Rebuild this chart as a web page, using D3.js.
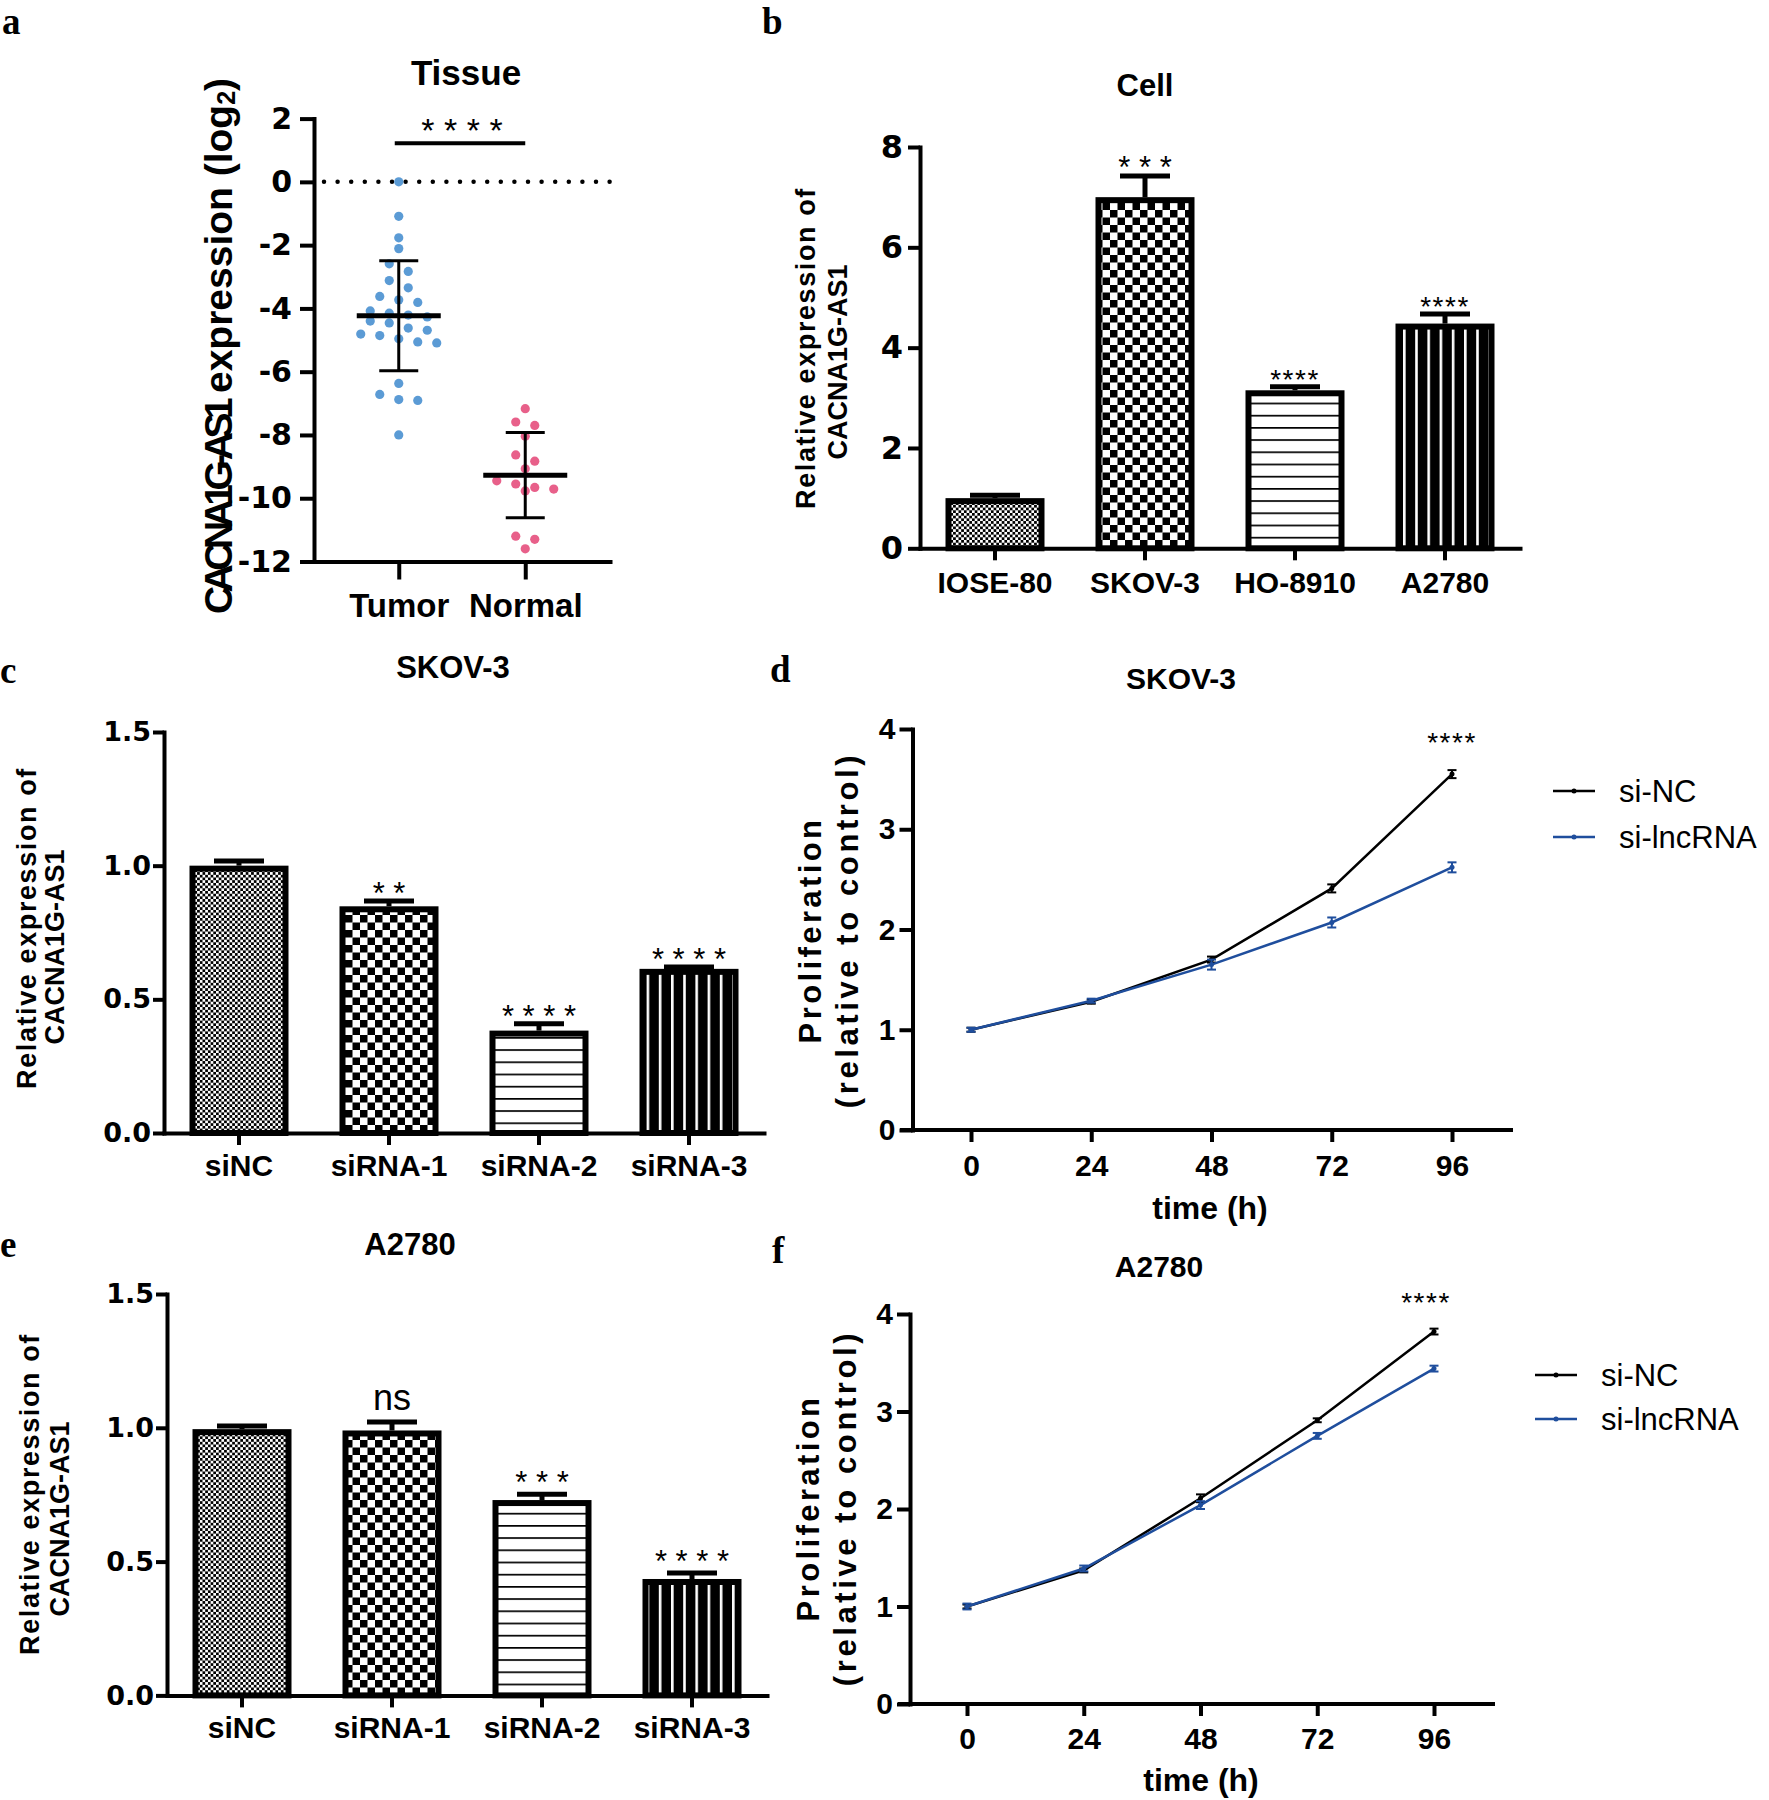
<!DOCTYPE html>
<html><head><meta charset="utf-8">
<script src="https://cdn.jsdelivr.net/npm/d3@7"></script>
<style>body{margin:0;background:#fff;} svg{display:block;background:#fff}</style>
</head><body>
<svg id="fig" width="1769" height="1800"></svg>
<script>
// ---------------- DATA ----------------
const tissueGroups = ["Tumor", "Normal"];
const tumorValues = [0, -1.09, -1.77, -2.11, -2.59, -2.83, -3.12, -3.35, -3.62, -3.73, -3.81, -4.08, -4.15, -4.21, -4.27,
  -4.40, -4.46, -4.62, -4.69, -4.81, -4.86, -4.96, -5.06, -5.09, -6.37, -6.72, -6.88, -6.91, -8.0];
const normalValues = [-7.17, -7.59, -7.7, -8.04, -8.63, -8.83, -9.07, -9.45, -9.55, -9.66, -9.71, -9.77, -11.2, -11.3, -11.6];
const tissueMeans = [-4.23, -9.27];
const tissueSDs = [1.74, 1.35];
const tissueTicks = [2, 0, -2, -4, -6, -8, -10, -12];
const tissueSig = "* * * *";

const cellLines = ["IOSE-80", "SKOV-3", "HO-8910", "A2780"];
const cellMeans = [1.0, 7.0, 3.15, 4.48];
const cellSDs = [0.06, 0.42, 0.07, 0.19];
const cellSig = ["", "* * *", "****", "****"];
const cellTicks = [0, 2, 4, 6, 8];

const siGroups = ["siNC", "siRNA-1", "siRNA-2", "siRNA-3"];
const skovMeans = [1.0, 0.848, 0.383, 0.614];
const skovSDs = [0.017, 0.02, 0.026, 0.007];
const skovSig = ["", "* *", "* * * *", "* * * *"];
const a2780Means = [0.995, 0.99, 0.73, 0.435];
const a2780SDs = [0.012, 0.032, 0.022, 0.022];
const a2780Sig = ["", "ns", "* * *", "* * * *"];
const relTicks = [0, 0.5, 1.0, 1.5];

const timePoints = [0, 24, 48, 72, 96];
const seriesNames = ["si-NC", "si-lncRNA"];
const skovNC = [1.0, 1.28, 1.70, 2.41, 3.55];
const skovNCsd = [0.02, 0.02, 0.03, 0.04, 0.04];
const skovLnc = [1.0, 1.29, 1.65, 2.07, 2.62];
const skovLncSd = [0.02, 0.02, 0.05, 0.05, 0.05];
const a2780NC = [1.0, 1.37, 2.11, 2.91, 3.82];
const a2780NCsd = [0.02, 0.02, 0.04, 0.02, 0.03];
const a2780Lnc = [1.0, 1.39, 2.04, 2.75, 3.44];
const a2780LncSd = [0.03, 0.03, 0.04, 0.03, 0.03];
const prolifTicks = [0, 1, 2, 3, 4];
const prolifSig = "****";

// ---------------- SETUP ----------------
const FONT = "'Liberation Sans', Arial, Helvetica, sans-serif";
const DJ = "'DejaVu Sans', 'Liberation Sans', sans-serif";
const SERIF = "'Liberation Serif', 'Times New Roman', serif";
const BLUE = "#1F4E9D";

const svg = d3.select('#fig');
const defs = svg.append('defs');
function pattern(id, w, h, bg, rects) {
  const p = defs.append('pattern').attr('id', id).attr('patternUnits', 'userSpaceOnUse')
    .attr('width', w).attr('height', h);
  p.append('rect').attr('width', w).attr('height', h).attr('fill', bg);
  rects.forEach(r => p.append('rect').attr('x', r[0]).attr('y', r[1]).attr('width', r[2]).attr('height', r[3]).attr('fill', r[4]));
}
pattern('fineCheck', 5.4, 5.4, '#fff', [[0, 0, 2.7, 2.7, '#000'], [2.7, 2.7, 2.7, 2.7, '#000']]);
pattern('bigCheck', 15, 15, '#fff', [[0, 0, 7.5, 7.5, '#000'], [7.5, 7.5, 7.5, 7.5, '#000']]);
pattern('hLines', 12, 12.2, '#fff', [[0, 0, 12, 1.7, '#000']]);
pattern('vLines', 12.2, 12, '#000', [[0, 0, 2.6, 12, '#fff']]);
const FILLS = ['url(#fineCheck)', 'url(#bigCheck)', 'url(#hLines)', 'url(#vLines)'];

function txt(g, x, y, s, o) {
  o = o || {};
  const t = g.append('text').attr('x', x).attr('y', y).text(s)
    .attr('text-anchor', o.anchor || 'middle')
    .style('font-family', o.family || FONT)
    .style('font-size', (o.size || 30) + 'px')
    .style('font-weight', o.weight || 'bold')
    .attr('fill', o.fill || '#000');
  if (o.ls !== undefined) t.style('letter-spacing', o.ls + 'px');
  if (o.db) t.attr('dominant-baseline', o.db);
  return t;
}
function vtxt(g, cx, cy, s, o) {
  o = o || {};
  const t = txt(g, 0, 0, s, Object.assign({db: 'central'}, o));
  t.attr('transform', `translate(${cx},${cy}) rotate(-90)`);
  return t;
}
function styleAxis(sel, family, size, weight) {
  sel.select('.domain').attr('stroke', '#000').attr('stroke-width', 4).attr('stroke-linecap', 'square');
  sel.selectAll('.tick line').attr('stroke', '#000').attr('stroke-width', 4);
  sel.selectAll('.tick text').attr('fill', '#000').style('font-family', family)
    .style('font-size', size + 'px').style('font-weight', weight);
}

// ---------------- PANEL LETTERS ----------------
[['a', 2, 34], ['b', 762, 34], ['c', 0, 683], ['d', 770, 682], ['e', 0, 1257], ['f', 772, 1263]]
  .forEach(l => txt(svg, l[1], l[2], l[0], {anchor: 'start', family: SERIF, size: 37}));

// ---------------- PANEL A ----------------
(function () {
  const g = svg.append('g');
  const x = d3.scalePoint().domain(tissueGroups).range([314, 610]).padding(0.67);
  const y = d3.scaleLinear().domain([-12, 2]).range([561.5, 118.6]);

  g.append('line').attr('x1', 324).attr('x2', 610).attr('y1', y(0)).attr('y2', y(0))
    .attr('stroke', '#000').attr('stroke-width', 4.5).attr('stroke-linecap', 'round')
    .attr('stroke-dasharray', '0,13.6');

  function swarm(values, step, thresh) {
    const pts = values.map(v => ({v, py: y(v)})).sort((a, b) => a.py - b.py);
    const bins = [];
    pts.forEach(p => {
      const b = bins[bins.length - 1];
      if (b && p.py - b[0].py <= thresh) b.push(p); else bins.push([p]);
    });
    bins.forEach(b => b.forEach((p, i) => p.dx = (i - (b.length - 1) / 2) * step));
    return pts;
  }
  const groups = [
    {name: tissueGroups[0], vals: tumorValues, color: '#5B9BD5', mean: tissueMeans[0], sd: tissueSDs[0]},
    {name: tissueGroups[1], vals: normalValues, color: '#E8608A', mean: tissueMeans[1], sd: tissueSDs[1]}
  ];
  groups.forEach(gr => {
    const cx = x(gr.name);
    g.append('g').selectAll('circle').data(swarm(gr.vals, 19, 10)).join('circle')
      .attr('cx', d => cx + d.dx).attr('cy', d => d.py).attr('r', 4.6).attr('fill', gr.color);
    g.append('line').attr('x1', cx).attr('x2', cx).attr('y1', y(gr.mean + gr.sd)).attr('y2', y(gr.mean - gr.sd))
      .attr('stroke', '#000').attr('stroke-width', 3);
    [gr.mean + gr.sd, gr.mean - gr.sd].forEach(v =>
      g.append('line').attr('x1', cx - 19.5).attr('x2', cx + 19.5).attr('y1', y(v)).attr('y2', y(v))
        .attr('stroke', '#000').attr('stroke-width', 3));
    g.append('line').attr('x1', cx - 42).attr('x2', cx + 42).attr('y1', y(gr.mean)).attr('y2', y(gr.mean))
      .attr('stroke', '#000').attr('stroke-width', 5);
  });

  g.append('line').attr('x1', x(tissueGroups[0]) - 4).attr('x2', x(tissueGroups[1]))
    .attr('y1', y(1.22)).attr('y2', y(1.22)).attr('stroke', '#000').attr('stroke-width', 4);
  txt(g, (x(tissueGroups[0]) + x(tissueGroups[1])) / 2, 142, tissueSig, {size: 34, weight: 'normal'});

  const ya = g.append('g').attr('transform', 'translate(314,0)')
    .call(d3.axisLeft(y).tickValues(tissueTicks).tickFormat(d3.format('d')).tickSize(14).tickSizeOuter(0).tickPadding(8));
  styleAxis(ya, DJ, 30, 'bold');
  ya.selectAll('.tick text').text(d => d < 0 ? '-' + Math.abs(d) : d);
  const xa = g.append('g').attr('transform', `translate(0,${y(-12)})`)
    .call(d3.axisBottom(x).tickSize(18).tickSizeOuter(0));
  styleAxis(xa, FONT, 33, 'bold');
  xa.selectAll('.tick text').attr('y', 617 - y(-12)).attr('dy', 0);

  txt(g, 466, 85, 'Tissue', {size: 35});
  const yl = vtxt(g, 218, 346, '', {size: 39});
  yl.append('tspan').text('CACNA1G-AS1').style('letter-spacing', '-6.5px');
  yl.append('tspan').text(' expression (log').style('letter-spacing', '0px');
  yl.append('tspan').text('2').attr('dy', 8).style('font-size', '25px');
  yl.append('tspan').text(')').attr('dy', -8);
})();

// ---------------- BAR PANELS ----------------
function barPanel(o) {
  const g = svg.append('g');
  const x = d3.scaleBand().domain(o.cats).range([o.axisX, o.axisX + 600]).paddingInner(0.34).paddingOuter(0.17);
  const y = d3.scaleLinear().domain(o.yDomain).range([o.y0, o.yTop]);
  const sw = 6;
  const data = o.cats.map((c, i) => ({c, m: o.means[i], sd: o.sds[i], sig: o.sigs[i], fill: FILLS[i]}));
  const cx = d => x(d.c) + x.bandwidth() / 2;

  g.selectAll('rect.bar').data(data).join('rect').attr('class', 'bar')
    .attr('x', d => x(d.c) + sw / 2).attr('y', d => y(d.m) + sw / 2)
    .attr('width', x.bandwidth() - sw).attr('height', d => y(0) - y(d.m) - sw / 2)
    .attr('fill', d => d.fill).attr('stroke', '#000').attr('stroke-width', sw);
  g.selectAll('line.eb').data(data).join('line').attr('class', 'eb')
    .attr('x1', cx).attr('x2', cx).attr('y1', d => y(d.m)).attr('y2', d => y(d.m + d.sd))
    .attr('stroke', '#000').attr('stroke-width', 5);
  g.selectAll('line.cap').data(data).join('line').attr('class', 'cap')
    .attr('x1', d => cx(d) - 25).attr('x2', d => cx(d) + 25)
    .attr('y1', d => y(d.m + d.sd)).attr('y2', d => y(d.m + d.sd))
    .attr('stroke', '#000').attr('stroke-width', 5);
  data.forEach(d => {
    if (!d.sig) return;
    const capY = y(d.m + d.sd);
    if (d.sig === 'ns') txt(g, cx(d), capY - 12, d.sig, {size: 36, weight: 'normal'});
    else if (d.sig.indexOf(' ') < 0) txt(g, cx(d), capY + 2, d.sig, {size: 28, weight: 'normal', ls: 1.5});
    else txt(g, cx(d), capY + o.sigOff, d.sig, {size: 31, weight: 'normal'});
  });

  const ya = g.append('g').attr('transform', `translate(${o.axisX},0)`)
    .call(d3.axisLeft(y).tickValues(o.ticks).tickFormat(o.fmt).tickSize(o.tickLen).tickSizeOuter(0).tickPadding(o.pad));
  styleAxis(ya, DJ, o.tickSize, 'bold');
  const xa = g.append('g').attr('transform', `translate(0,${o.y0})`)
    .call(d3.axisBottom(x).tickSize(12).tickSizeOuter(0));
  styleAxis(xa, FONT, 30, 'bold');
  xa.selectAll('.tick text').attr('y', o.labelBase - o.y0).attr('dy', 0);

  txt(g, o.titleX, o.titleY, o.title, {size: 31});
  vtxt(g, o.yl1[0], o.yl1[1], 'Relative expression of', {size: 27, ls: 1.6});
  vtxt(g, o.yl2[0], o.yl2[1], 'CACNA1G-AS1', {size: 27});
}

barPanel({cats: cellLines, means: cellMeans, sds: cellSDs, sigs: cellSig,
  axisX: 920, y0: 548.3, yTop: 147, yDomain: [0, 8], ticks: cellTicks, fmt: d3.format('d'),
  tickLen: 12, pad: 5, tickSize: 32, labelBase: 593, sigOff: 2,
  title: 'Cell', titleX: 1145, titleY: 96, yl1: [806, 348], yl2: [838, 362]});

barPanel({cats: siGroups, means: skovMeans, sds: skovSDs, sigs: skovSig,
  axisX: 164, y0: 1133, yTop: 732, yDomain: [0, 1.5], ticks: relTicks, fmt: d3.format('.1f'),
  tickLen: 11, pad: 2, tickSize: 27, labelBase: 1176, sigOff: 3,
  title: 'SKOV-3', titleX: 453, titleY: 678, yl1: [27, 928], yl2: [55, 947]});

barPanel({cats: siGroups, means: a2780Means, sds: a2780SDs, sigs: a2780Sig,
  axisX: 167, y0: 1695.4, yTop: 1294, yDomain: [0, 1.5], ticks: relTicks, fmt: d3.format('.1f'),
  tickLen: 11, pad: 2, tickSize: 27, labelBase: 1738, sigOff: -1,
  title: 'A2780', titleX: 410, titleY: 1255, yl1: [30, 1494], yl2: [60, 1519]});

// ---------------- LINE PANELS ----------------
function linePanel(o) {
  const g = svg.append('g');
  const x = d3.scaleLinear().domain([0, 96]).range(o.xRange);
  const y = d3.scaleLinear().domain([0, 4]).range([o.y0, o.yTop]);

  const ya = g.append('g').attr('transform', `translate(${o.axisX},0)`)
    .call(d3.axisLeft(y).tickValues(prolifTicks).tickFormat(d3.format('d')).tickSize(13).tickSizeOuter(0).tickPadding(4));
  styleAxis(ya, FONT, 30, 'bold');
  const xa = g.append('g').attr('transform', `translate(0,${o.y0})`)
    .call(d3.axisBottom(x).tickValues(timePoints).tickFormat(d3.format('d')).tickSize(12).tickSizeOuter(0));
  styleAxis(xa, FONT, 30, 'bold');
  xa.select('.domain').remove();
  xa.selectAll('.tick text').attr('y', o.tickBase - o.y0).attr('dy', 0);
  g.append('line').attr('x1', o.xAxis[0]).attr('x2', o.xAxis[1]).attr('y1', o.y0).attr('y2', o.y0)
    .attr('stroke', '#000').attr('stroke-width', 4);

  const series = [
    {name: seriesNames[0], vals: o.nc, sds: o.ncSd, color: '#000'},
    {name: seriesNames[1], vals: o.lnc, sds: o.lncSd, color: BLUE}
  ];
  const line = d3.line().x((d, i) => x(timePoints[i])).y(d => y(d));
  series.forEach(s => {
    const sg = g.append('g');
    sg.append('path').attr('d', line(s.vals)).attr('fill', 'none').attr('stroke', s.color).attr('stroke-width', 2.5);
    const pts = s.vals.map((v, i) => ({t: timePoints[i], v, sd: s.sds[i]}));
    sg.selectAll('line.v').data(pts).join('line').attr('class', 'v')
      .attr('x1', d => x(d.t)).attr('x2', d => x(d.t)).attr('y1', d => y(d.v - d.sd)).attr('y2', d => y(d.v + d.sd))
      .attr('stroke', s.color).attr('stroke-width', 2);
    [-1, 1].forEach(k => sg.selectAll('line.c' + (k + 1)).data(pts).join('line').attr('class', 'c' + (k + 1))
      .attr('x1', d => x(d.t) - 4.5).attr('x2', d => x(d.t) + 4.5)
      .attr('y1', d => y(d.v + k * d.sd)).attr('y2', d => y(d.v + k * d.sd))
      .attr('stroke', s.color).attr('stroke-width', 2));
    sg.selectAll('circle').data(pts).join('circle').attr('cx', d => x(d.t)).attr('cy', d => y(d.v))
      .attr('r', 2.5).attr('fill', s.color);
  });
  txt(g, x(96) + o.sigDx, o.sigBase, prolifSig, {size: 28, weight: 'normal', ls: 1.5});

  series.forEach((s, i) => {
    const ly = o.legY[i];
    g.append('line').attr('x1', o.legX).attr('x2', o.legX + 42).attr('y1', ly).attr('y2', ly)
      .attr('stroke', s.color).attr('stroke-width', 2.5);
    g.append('circle').attr('cx', o.legX + 21).attr('cy', ly).attr('r', 2.5).attr('fill', s.color);
    txt(g, o.legX + 66, ly, s.name, {anchor: 'start', size: 31, weight: 'normal', db: 'central'});
  });

  txt(g, o.titleX, o.titleY, o.title, {size: 30});
  txt(g, o.xtX, o.xtY, 'time (h)', {size: 32});
  vtxt(g, o.axisX - 102, o.ylY, 'Proliferation', {size: 31, ls: 3.4});
  vtxt(g, o.axisX - 65, o.ylY, '(relative to control)', {size: 31, ls: 3.6});
}

linePanel({xRange: [971, 1452], y0: 1130, yTop: 729, axisX: 912.5, xAxis: [900, 1513], tickBase: 1176,
  nc: skovNC, ncSd: skovNCsd, lnc: skovLnc, lncSd: skovLncSd, sigDx: 0, sigBase: 752,
  legX: 1553, legY: [791, 837], title: 'SKOV-3', titleX: 1181, titleY: 689,
  xtX: 1210, xtY: 1219, ylY: 930});

linePanel({xRange: [967, 1434], y0: 1704, yTop: 1314, axisX: 910, xAxis: [898, 1495], tickBase: 1749,
  nc: a2780NC, ncSd: a2780NCsd, lnc: a2780Lnc, lncSd: a2780LncSd, sigDx: -8, sigBase: 1312,
  legX: 1535, legY: [1375, 1419], title: 'A2780', titleX: 1159, titleY: 1277,
  xtX: 1201, xtY: 1791, ylY: 1508});
</script>
</body></html>
